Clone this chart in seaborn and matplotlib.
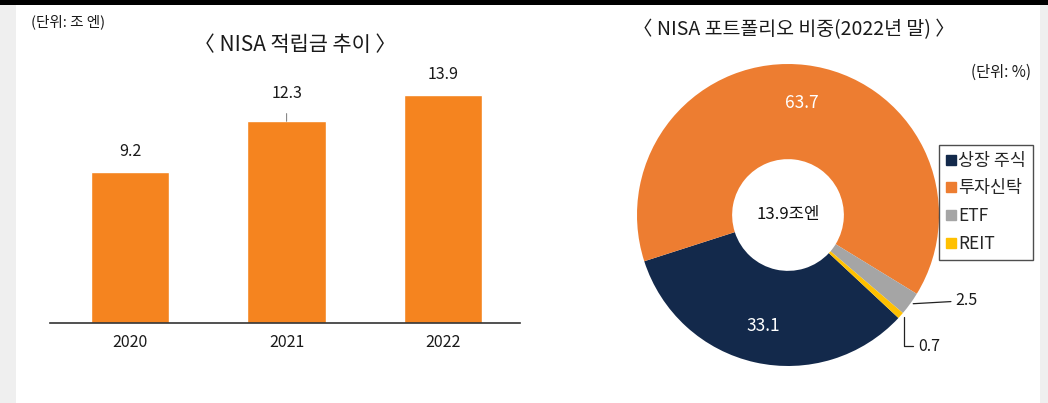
import matplotlib
matplotlib.use("Agg")
import matplotlib.pyplot as plt
from matplotlib.patches import Rectangle
from matplotlib.lines import Line2D
import numpy as np
import pandas as pd
import seaborn as sns

# ---- data ----
years = ["2020", "2021", "2022"]
savings = [9.2, 12.3, 13.9]          # 조 엔
portfolio_labels = ["상장 주식", "투자신탁", "ETF", "REIT"]
portfolio_values = [33.1, 63.7, 2.5, 0.7]   # %
total_label = "13.9조엔"

bar_color = "#F5841F"
pie_colors = ["#13294B", "#ED7D31", "#A5A5A5", "#FFC000"]

sns.set_theme(style="white")
plt.rcParams["font.family"] = ["Noto Sans CJK KR", "DejaVu Sans"]
plt.rcParams["font.weight"] = "medium"

W, H = 1048, 403
fig = plt.figure(figsize=(W / 100, H / 100), dpi=100)
fig.patch.set_facecolor("white")

def fx(px):
    return px / W

def fy(py):
    return 1 - py / H

TXT = "#1a1a1a"

# frame decorations
fig.patches.append(Rectangle((0, 0), fx(16), 1, transform=fig.transFigure,
                             facecolor="#EFEFEF", edgecolor="none", zorder=0))
fig.patches.append(Rectangle((fx(1040), 0), fx(8), 1, transform=fig.transFigure,
                             facecolor="#EFEFEF", edgecolor="none", zorder=0))
fig.patches.append(Rectangle((0, fy(5)), 1, 5 / H, transform=fig.transFigure,
                             facecolor="black", edgecolor="none", zorder=5))

# ---- bar chart ----
ax1 = fig.add_axes([fx(50), fy(323), fx(470), (323 - 60) / H])
df = pd.DataFrame({"year": years, "value": savings})
sns.barplot(data=df, x="year", y="value", color=bar_color, width=0.5,
            saturation=1, ax=ax1)
ax1.set_xlim(-0.51, 2.49)
ax1.set_ylim(0, 263 / 16.4)
for s in ["top", "right", "left"]:
    ax1.spines[s].set_visible(False)
ax1.spines["bottom"].set_color("#333333")
ax1.spines["bottom"].set_linewidth(1.2)
ax1.set_yticks([])
ax1.set_xlabel("")
ax1.set_ylabel("")
ax1.tick_params(axis="x", length=0, pad=8, labelsize=11.5, colors=TXT)

for i, v in enumerate(savings):
    if i == 1:
        ax1.annotate(f"{v}", xy=(i, v), xytext=(0, 20), textcoords="offset points",
                     ha="center", va="center", fontsize=11.5, color=TXT,
                     arrowprops=dict(arrowstyle="-", color="#888888", lw=0.8,
                                     shrinkA=6, shrinkB=0))
    else:
        ax1.annotate(f"{v}", xy=(i, v), xytext=(0, 15), textcoords="offset points",
                     ha="center", va="center", fontsize=11.5, color=TXT)

fig.text(fx(31), fy(22), "(단위: 조 엔)", ha="left", va="center", fontsize=10.5, color=TXT)
fig.text(fx(295), fy(45), "〈 NISA 적립금 추이 〉", ha="center", va="center",
         fontsize=15, color=TXT)

# ---- donut chart ----
cx, cy, R = 788, 215, 151
half = 160
ax2 = fig.add_axes([fx(cx - half), fy(cy + half), fx(2 * half), 2 * half / H])
wedges, _ = ax2.pie(portfolio_values, colors=pie_colors, startangle=-43,
                    counterclock=False, radius=1,
                    wedgeprops=dict(width=0.63, edgecolor="none"))
lim = half / R
ax2.set_xlim(-lim, lim)
ax2.set_ylim(-lim, lim)
ax2.set_aspect("equal")
ax2.axis("off")

def mid_angle(w):
    return np.deg2rad((w.theta1 + w.theta2) / 2)

for idx in (0, 1):
    a = mid_angle(wedges[idx])
    ax2.text(0.75 * np.cos(a), 0.75 * np.sin(a), f"{portfolio_values[idx]}",
             ha="center", va="center", fontsize=12.5, color="white")

ax2.text(0.0, 0.0, total_label, ha="center", va="center", fontsize=12, color="#111111")

# ETF label
a = mid_angle(wedges[2])
px, py = np.cos(a), np.sin(a)
ax2.annotate(f"{portfolio_values[2]}", xy=(px + 0.02, py), xytext=(1.11, py + 0.02),
             ha="left", va="center", fontsize=11.5, color=TXT,
             arrowprops=dict(arrowstyle="-", color="#222222", lw=0.9,
                             shrinkA=1, shrinkB=0))
# REIT label
a = mid_angle(wedges[3])
px, py = np.cos(a), np.sin(a)
ax2.annotate(f"{portfolio_values[3]}", xy=(px + 0.02, py - 0.01), xytext=(0.86, -0.87),
             ha="left", va="center", fontsize=11.5, color=TXT,
             arrowprops=dict(arrowstyle="-", color="#222222", lw=0.9,
                             connectionstyle="angle,angleA=0,angleB=90,rad=0",
                             shrinkA=1, shrinkB=0))

fig.text(fx(794), fy(30), "〈 NISA 포트폴리오 비중(2022년 말) 〉", ha="center", va="center",
         fontsize=14, color=TXT)
fig.text(fx(1031), fy(72), "(단위: %)", ha="right", va="center", fontsize=11, color=TXT)

handles = [Line2D([0], [0], marker="s", linestyle="none", markersize=6.5,
                  markerfacecolor=c, markeredgecolor=c) for c in pie_colors]
leg = fig.legend(handles, portfolio_labels, loc="upper left",
                 bbox_to_anchor=(fx(939), fy(145)), frameon=True, fancybox=False,
                 edgecolor="#222222", fontsize=12.5, handlelength=0.55,
                 handletextpad=0.15, labelspacing=0.55, borderpad=0.4,
                 borderaxespad=0)
leg.get_frame().set_linewidth(1.0)

fig.savefig("out.png", dpi=100, facecolor="white")
